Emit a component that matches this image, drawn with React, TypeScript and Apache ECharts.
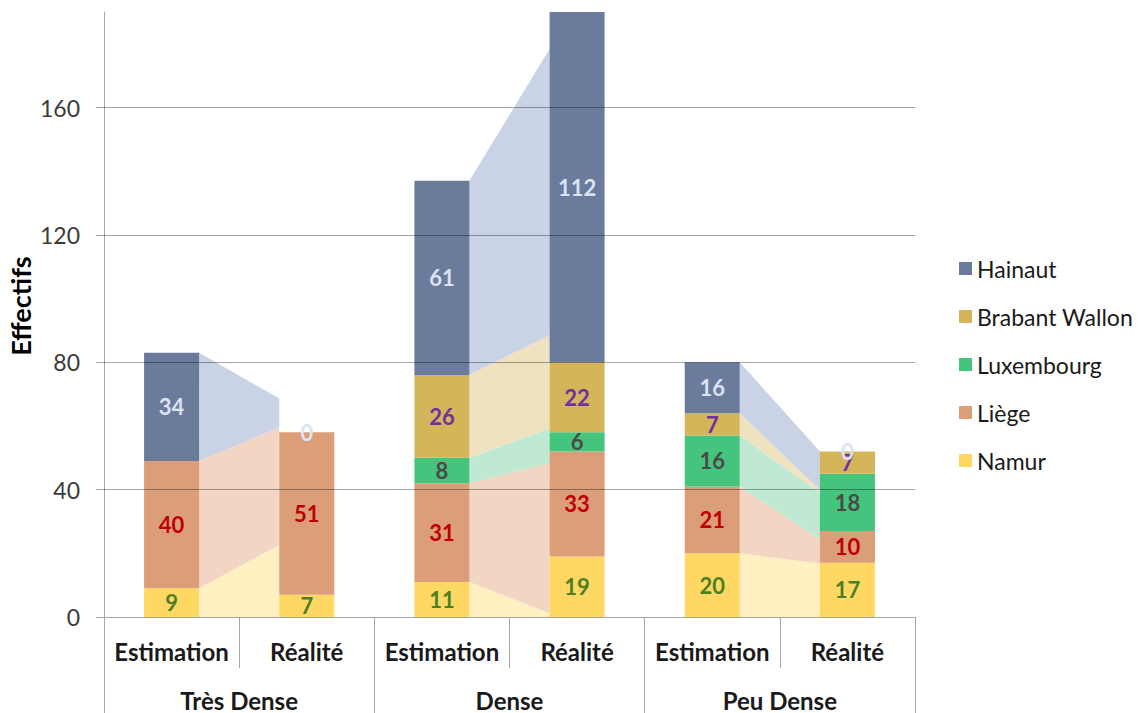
import React, { useEffect, useRef } from "react";
import * as echarts from "echarts";

// ---- data ----
const categories = ["Estimation", "Réalité", "Estimation", "Réalité", "Estimation", "Réalité"];
const groups = ["Très Dense", "Dense", "Peu Dense"];
const seriesNames = ["Namur", "Liège", "Luxembourg", "Brabant Wallon", "Hainaut"];
const legendOrder = ["Hainaut", "Brabant Wallon", "Luxembourg", "Liège", "Namur"];

const namur = [9, 7, 11, 19, 20, 17];
const liege = [40, 51, 31, 33, 21, 10];
const luxembourg = [0, 0, 8, 6, 16, 18];
const brabant = [0, 0, 26, 22, 7, 7];
const hainaut = [34, 0, 61, 112, 16, 0];

// cumulative tops of the connecting bands at the right edge (next to the "Réalité" bar)
const bandNamurRight = [22.6, 1.2, 16.8];
const bandLiegeRight = [59.5, 48.4, 24.4];
const bandLuxRight = [59.5, 59.2, 39];
const bandBrabantRight = [59.5, 88.5, 40];
const bandHainautRight = [68.6, 178.4, 52];

const yTicks = [0, 40, 80, 120, 160];
const yAxisTitle = "Effectifs";

// ---- styles ----
const barColors = ["#ffd864", "#dc9e78", "#44c47d", "#d4b55a", "#6a7b9c"];
const bandColors = ["#fff0c2", "#f2d5c3", "#bfe9d2", "#efe3bf", "#c9d3e5"];
const labelColors = ["#4e7f22", "#c00000", "#494949", "#7030a0", "#dae3f3"];
const BAR_RATIO = 0.407;
const FONT = "Lato, 'Open Sans', sans-serif";

const values = [namur, liege, luxembourg, brabant, hainaut];
const bandRights = [bandNamurRight, bandLiegeRight, bandLuxRight, bandBrabantRight, bandHainautRight];

function buildBands() {
  const items: number[][] = [];
  for (let g = 0; g < groups.length; g++) {
    const est = g * 2;
    let leftLow = 0;
    let rightLow = 0;
    for (let s = 0; s < values.length; s++) {
      const leftHigh = leftLow + values[s][est];
      const rightHigh = bandRights[s][g];
      items.push([est, leftLow, leftHigh, rightLow, rightHigh, s]);
      leftLow = leftHigh;
      rightLow = rightHigh;
    }
  }
  return items;
}

export default function App() {
  const ref = useRef<HTMLDivElement>(null);
  useEffect(() => {
    if (!ref.current) return;
    const chart = echarts.init(ref.current, undefined, { renderer: "svg" });
    const barSeries = seriesNames.map((name, i) => ({
      name,
      type: "bar",
      stack: "total",
      barWidth: BAR_RATIO * 100 + "%",
      data: values[i],
      itemStyle: { color: barColors[i] },
      z: 2,
      label: {
        show: true,
        position: "inside",
        color: labelColors[i],
        fontFamily: FONT,
        fontWeight: "bold",
        fontSize: 22,
        formatter: (p: any) => (p.value === 0 && (i === 2 || i === 3) ? "" : String(p.value)),
      },
    }));

    const option: any = {
      animation: false,
      grid: { left: 104, right: 230, top: 12, bottom: 96 },
      graphic: [
        {
          type: "text",
          x: 20,
          y: 306,
          rotation: Math.PI / 2,
          style: {
            text: yAxisTitle,
            fontFamily: FONT,
            fontWeight: "bold",
            fontSize: 27,
            fill: "#000",
            textAlign: "center",
            textVerticalAlign: "middle",
          },
        },
      ],
      legend: {
        data: legendOrder,
        orient: "vertical",
        left: 954,
        top: 252,
        icon: "rect",
        itemWidth: 13,
        itemHeight: 13,
        itemGap: 25,
        textStyle: { fontFamily: FONT, fontSize: 23, color: "#1a1a1a", lineHeight: 22 },
      },
      xAxis: [
        {
          type: "category",
          data: categories,
          axisLine: { show: true, lineStyle: { color: "#a6a6a6", width: 1 } },
          axisTick: { show: true, interval: 0, length: 51, lineStyle: { color: "#a6a6a6" } },
          axisLabel: {
            interval: 0,
            margin: 22,
            fontFamily: FONT,
            fontWeight: "bold",
            fontSize: 24,
            color: "#1a1a1a",
          },
        },
        {
          type: "category",
          data: groups,
          position: "bottom",
          axisLine: { show: false },
          axisTick: { show: true, interval: 0, length: 96, lineStyle: { color: "#a6a6a6" } },
          axisLabel: {
            interval: 0,
            margin: 71,
            fontFamily: FONT,
            fontWeight: "bold",
            fontSize: 24,
            color: "#1a1a1a",
          },
        },
      ],
      yAxis: {
        type: "value",
        min: 0,
        max: 190,
        interval: 40,
        axisLine: { show: true, lineStyle: { color: "#a6a6a6" } },
        axisTick: { show: true, length: 8, lineStyle: { color: "#a6a6a6" } },
        splitLine: { show: false },
        axisLabel: {
          showMaxLabel: false,
          margin: 24,
          fontFamily: FONT,
          fontSize: 23,
          color: "#3a3a3a",
        },
      },
      series: [
        {
          name: "bands",
          type: "custom",
          z: 1,
          silent: true,
          encode: { x: 0, y: [1, 2, 3, 4] },
          data: buildBands(),
          renderItem: (params: any, api: any) => {
            const ci = api.value(0);
            const l0 = api.value(1);
            const l1 = api.value(2);
            const r0 = api.value(3);
            const r1 = api.value(4);
            const s = api.value(5);
            const bw = api.size([1, 0])[0] * BAR_RATIO;
            const pl0 = api.coord([ci, l0]);
            const pl1 = api.coord([ci, l1]);
            const pr0 = api.coord([ci + 1, r0]);
            const pr1 = api.coord([ci + 1, r1]);
            const xl = pl0[0] + bw / 2;
            const xr = pr0[0] - bw / 2;
            return {
              type: "polygon",
              shape: {
                points: [
                  [xl, pl0[1]],
                  [xr, pr0[1]],
                  [xr, pr1[1]],
                  [xl, pl1[1]],
                ],
              },
              style: { fill: bandColors[s], stroke: null },
            };
          },
        },
        ...barSeries,
        {
          name: "grid",
          type: "line",
          data: [],
          z: 5,
          silent: true,
          markLine: {
            silent: true,
            symbol: "none",
            label: { show: false },
            lineStyle: { color: "rgba(0,0,0,0.35)", width: 1, type: "solid" },
            data: yTicks.filter((v) => v > 0).map((v) => ({ yAxis: v })),
          },
        },
      ],
    };
    chart.setOption(option);
    return () => chart.dispose();
  }, []);
  return (
    <div
      ref={ref}
      style={{ position: "fixed", left: 0, top: 0, width: 1145, height: 713, background: "#fff" }}
    />
  );
}
